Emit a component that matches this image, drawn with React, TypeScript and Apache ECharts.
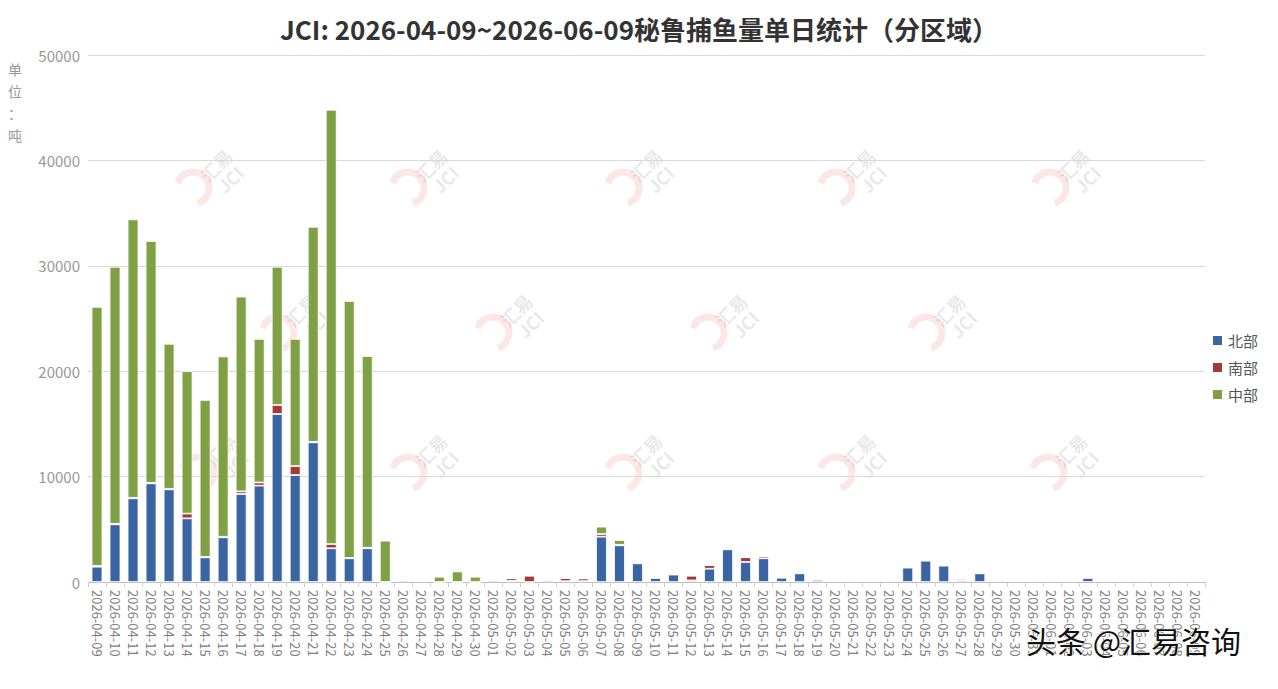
import React, { useEffect, useRef } from "react";
import * as echarts from "echarts";

const dates = [
  "2026-04-09","2026-04-10","2026-04-11","2026-04-12","2026-04-13","2026-04-14","2026-04-15","2026-04-16","2026-04-17","2026-04-18",
  "2026-04-19","2026-04-20","2026-04-21","2026-04-22","2026-04-23","2026-04-24","2026-04-25","2026-04-26","2026-04-27","2026-04-28",
  "2026-04-29","2026-04-30","2026-05-01","2026-05-02","2026-05-03","2026-05-04","2026-05-05","2026-05-06","2026-05-07","2026-05-08",
  "2026-05-09","2026-05-10","2026-05-11","2026-05-12","2026-05-13","2026-05-14","2026-05-15","2026-05-16","2026-05-17","2026-05-18",
  "2026-05-19","2026-05-20","2026-05-21","2026-05-22","2026-05-23","2026-05-24","2026-05-25","2026-05-26","2026-05-27","2026-05-28",
  "2026-05-29","2026-05-30","2026-05-31","2026-06-01","2026-06-02","2026-06-03","2026-06-04","2026-06-05","2026-06-06","2026-06-07",
  "2026-06-08","2026-06-09",
];

const north = [
  1450, 5470, 7940, 9360, 8790, 6040, 2340, 4240, 8350, 9140,
  15940, 10150, 13250, 3200, 2250, 3200, 0, 150, 100, 0,
  0, 0, 150, 100, 0, 150, 80, 80, 4300, 3480,
  1770, 380, 700, 150, 1260, 3100, 1900, 2250, 400, 820,
  200, 90, 80, 80, 80, 1360, 2020, 1550, 150, 820,
  100, 80, 80, 80, 80, 380, 80, 80, 80, 80,
  80, 80,
];

const south = [
  80, 50, 50, 50, 50, 450, 30, 50, 250, 300,
  850, 850, 50, 400, 30, 50, 0, 50, 0, 0,
  0, 0, 50, 250, 600, 80, 300, 250, 250, 50,
  100, 60, 80, 450, 350, 50, 450, 200, 80, 80,
  100, 20, 20, 20, 20, 80, 80, 80, 150, 80,
  30, 20, 20, 20, 20, 80, 20, 20, 20, 20,
  20, 20,
];

const central = [
  24570, 24380, 26410, 22940, 13760, 13510, 14900, 17110, 18470, 13620,
  13110, 12060, 20400, 41200, 24380, 18190, 3920, 0, 0, 500,
  1000, 500, 0, 0, 0, 0, 0, 0, 700, 450,
  0, 0, 0, 0, 0, 0, 0, 0, 0, 0,
  0, 0, 0, 0, 0, 0, 0, 0, 0, 0,
  0, 0, 0, 0, 0, 0, 0, 0, 0, 0,
  0, 0,
];

const seriesNames = ["北部", "南部", "中部"];
const seriesColors = ["#3a64a2", "#a23b38", "#80a046"];

const watermarkSpots = [
  [207, 172], [422, 172], [637, 172], [850, 172], [1064, 172],
  [292, 317], [507, 317], [722, 317], [940, 317],
  [212, 457], [422, 457], [637, 457], [850, 457], [1062, 457],
];

export default function App() {
  const ref = useRef<HTMLDivElement>(null);
  useEffect(() => {
    if (!ref.current) return;
    const chart = echarts.init(ref.current, undefined, { renderer: "svg" });
    const font = "'Noto Sans CJK SC', 'Noto Sans', sans-serif";
    const values = [north, south, central];
    const watermarks: any[] = [];
    watermarkSpots.forEach(([x, y]) => {
      watermarks.push({
        type: "arc",
        x: x - 22,
        y: y + 8,
        shape: { cx: 0, cy: 0, r: 16, startAngle: -Math.PI * 0.9, endAngle: Math.PI * 0.4 },
        style: { stroke: "rgba(240,120,120,0.18)", lineWidth: 7, fill: "none" },
        silent: true,
        z: 0,
      });
      watermarks.push({
        type: "text",
        x: x + 8,
        y: y - 8,
        rotation: Math.PI / 4,
        style: {
          text: "汇易\nJCI",
          fill: "rgba(150,150,150,0.22)",
          font: `bold 18px ${font}`,
          align: "center",
          verticalAlign: "middle",
          lineHeight: 20,
        },
        silent: true,
        z: 0,
      });
    });

    chart.setOption({
      animation: false,
      backgroundColor: "#ffffff",
      title: {
        text: "JCI: 2026-04-09~2026-06-09秘鲁捕鱼量单日统计（分区域）",
        left: "center",
        top: 2,
        textStyle: { fontFamily: font, fontSize: 26, fontWeight: "bold", color: "#333333" },
      },
      legend: {
        orient: "vertical",
        left: 1198,
        top: 320,
        itemWidth: 11,
        itemHeight: 11,
        itemGap: 12,
        icon: "rect",
        data: seriesNames,
        textStyle: { fontFamily: font, fontSize: 15, color: "#555555" },
      },
      grid: { left: 80, right: 65, top: 47, bottom: 99, containLabel: false },
      xAxis: {
        type: "category",
        data: dates,
        axisLine: { lineStyle: { color: "#bfbfbf" } },
        axisTick: { show: true, alignWithLabel: false, lineStyle: { color: "#d0d0d0" } },
        axisLabel: {
          interval: 0,
          rotate: -90,
          fontFamily: font,
          fontSize: 13,
          color: "#808080",
          margin: 8,
        },
      },
      yAxis: {
        type: "value",
        min: 0,
        max: 50000,
        interval: 10000,
        axisLine: { show: false },
        axisTick: { show: false },
        axisLabel: {
          fontFamily: font,
          fontSize: 15,
          color: "#999999",
          margin: 8,
          formatter: (v: number) => String(v),
        },
        splitLine: { lineStyle: { color: "#d9d9d9", width: 1 } },
      },
      graphic: [
        ...watermarks,
        {
          type: "text",
          x: 7,
          y: 50,
          style: {
            text: "单\n位\n：\n吨",
            fill: "#999999",
            font: `14px ${font}`,
            align: "center",
            lineHeight: 22,
          },
        },
        {
          type: "text",
          x: 1018,
          y: 617,
          z: 100,
          style: {
            text: "头条 @汇易咨询",
            fill: "#111111",
            font: `30px ${font}`,
            stroke: "#ffffff",
            lineWidth: 1,
            shadowColor: "rgba(255,255,255,0.9)",
            shadowBlur: 2,
            shadowOffsetX: 2,
            shadowOffsetY: 2,
          },
        },
      ],
      series: seriesNames.map((name, i) => ({
        name,
        type: "bar",
        stack: "total",
        data: values[i],
        barWidth: "60%",
        itemStyle: { color: seriesColors[i], borderColor: "#ffffff", borderWidth: 0.8 },
        z: 2,
      })),
    });
    return () => chart.dispose();
  }, []);
  return <div ref={ref} style={{ width: 1262, height: 673 }} />;
}
